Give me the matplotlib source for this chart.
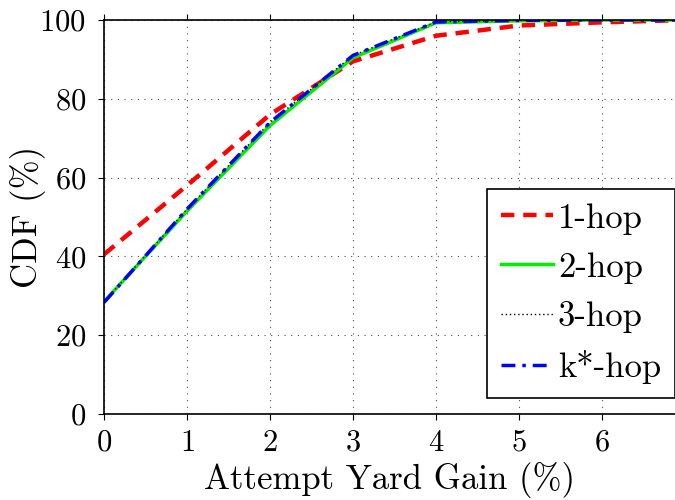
import matplotlib
matplotlib.use("Agg")
import matplotlib.pyplot as plt

plt.rcParams['font.family'] = ['cmr10', 'DejaVu Serif']
plt.rcParams['mathtext.fontset'] = 'cm'
plt.rcParams['axes.formatter.use_mathtext'] = True

x = [0, 1, 2, 3, 4, 5, 6, 7]
hop1 = [40.5, 58.0, 76.0, 89.5, 96.0, 98.6, 99.4, 100.0]
hop2 = [28.5, 51.5, 73.2, 90.4, 99.3, 99.8, 100.0, 100.0]
hop3 = [28.5, 52.0, 74.0, 91.0, 99.5, 99.9, 100.0, 100.0]
hopk = [28.3, 52.0, 74.0, 91.0, 99.5, 99.9, 100.0, 100.0]
labels = ['1-hop', '2-hop', '3-hop', 'k*-hop']

fig = plt.figure(figsize=(6.75, 5), dpi=100)
ax = fig.add_axes([104/675, 1-414/500, 1-104/675, (414-20)/500])

ax.plot(x, hop1, color='#ff0000', linestyle=(0, (3, 2)), linewidth=3.2, label=labels[0])
ax.plot(x, hop2, color='#00ee00', linestyle='-', linewidth=2.5, label=labels[1])
ax.plot(x, hop3, color='black', linestyle=(0, (1, 2)), linewidth=1.0, label=labels[2])
ax.plot(x, hopk, color='#0000ff', linestyle=(0, (4, 2, 1, 2)), linewidth=2.5, label=labels[3])

ax.set_xlim(0, 6.88)
ax.set_ylim(0, 100)
ax.set_xticks([0, 1, 2, 3, 4, 5, 6])
ax.set_yticks([0, 20, 40, 60, 80, 100])
ax.tick_params(direction='out', length=4, width=0.8, labelsize=22, top=True, right=False)
ax.tick_params(axis='x', pad=7)
ax.tick_params(axis='y', pad=9)
ax.spines['right'].set_visible(False)
for s in ['left', 'bottom', 'top']:
    ax.spines[s].set_linewidth(1.2)
ax.grid(True, linestyle=(0, (1, 5)), color='black', linewidth=0.8, alpha=0.7)

ax.set_xlabel('Attempt Yard Gain (%)', fontsize=25, labelpad=4)
ax.set_ylabel('CDF (%)', fontsize=25)
ax.yaxis.set_label_coords(-0.102, 0.5)

leg = ax.legend(loc='lower right', bbox_to_anchor=(1.0, 0.04), fontsize=25, frameon=True,
                fancybox=False, edgecolor='black', framealpha=1, handlelength=1.5,
                borderpad=0.4, labelspacing=0.5, handletextpad=0.15, borderaxespad=0.0)
leg.get_frame().set_linewidth(1.2)

fig.savefig('out.png', dpi=100)
